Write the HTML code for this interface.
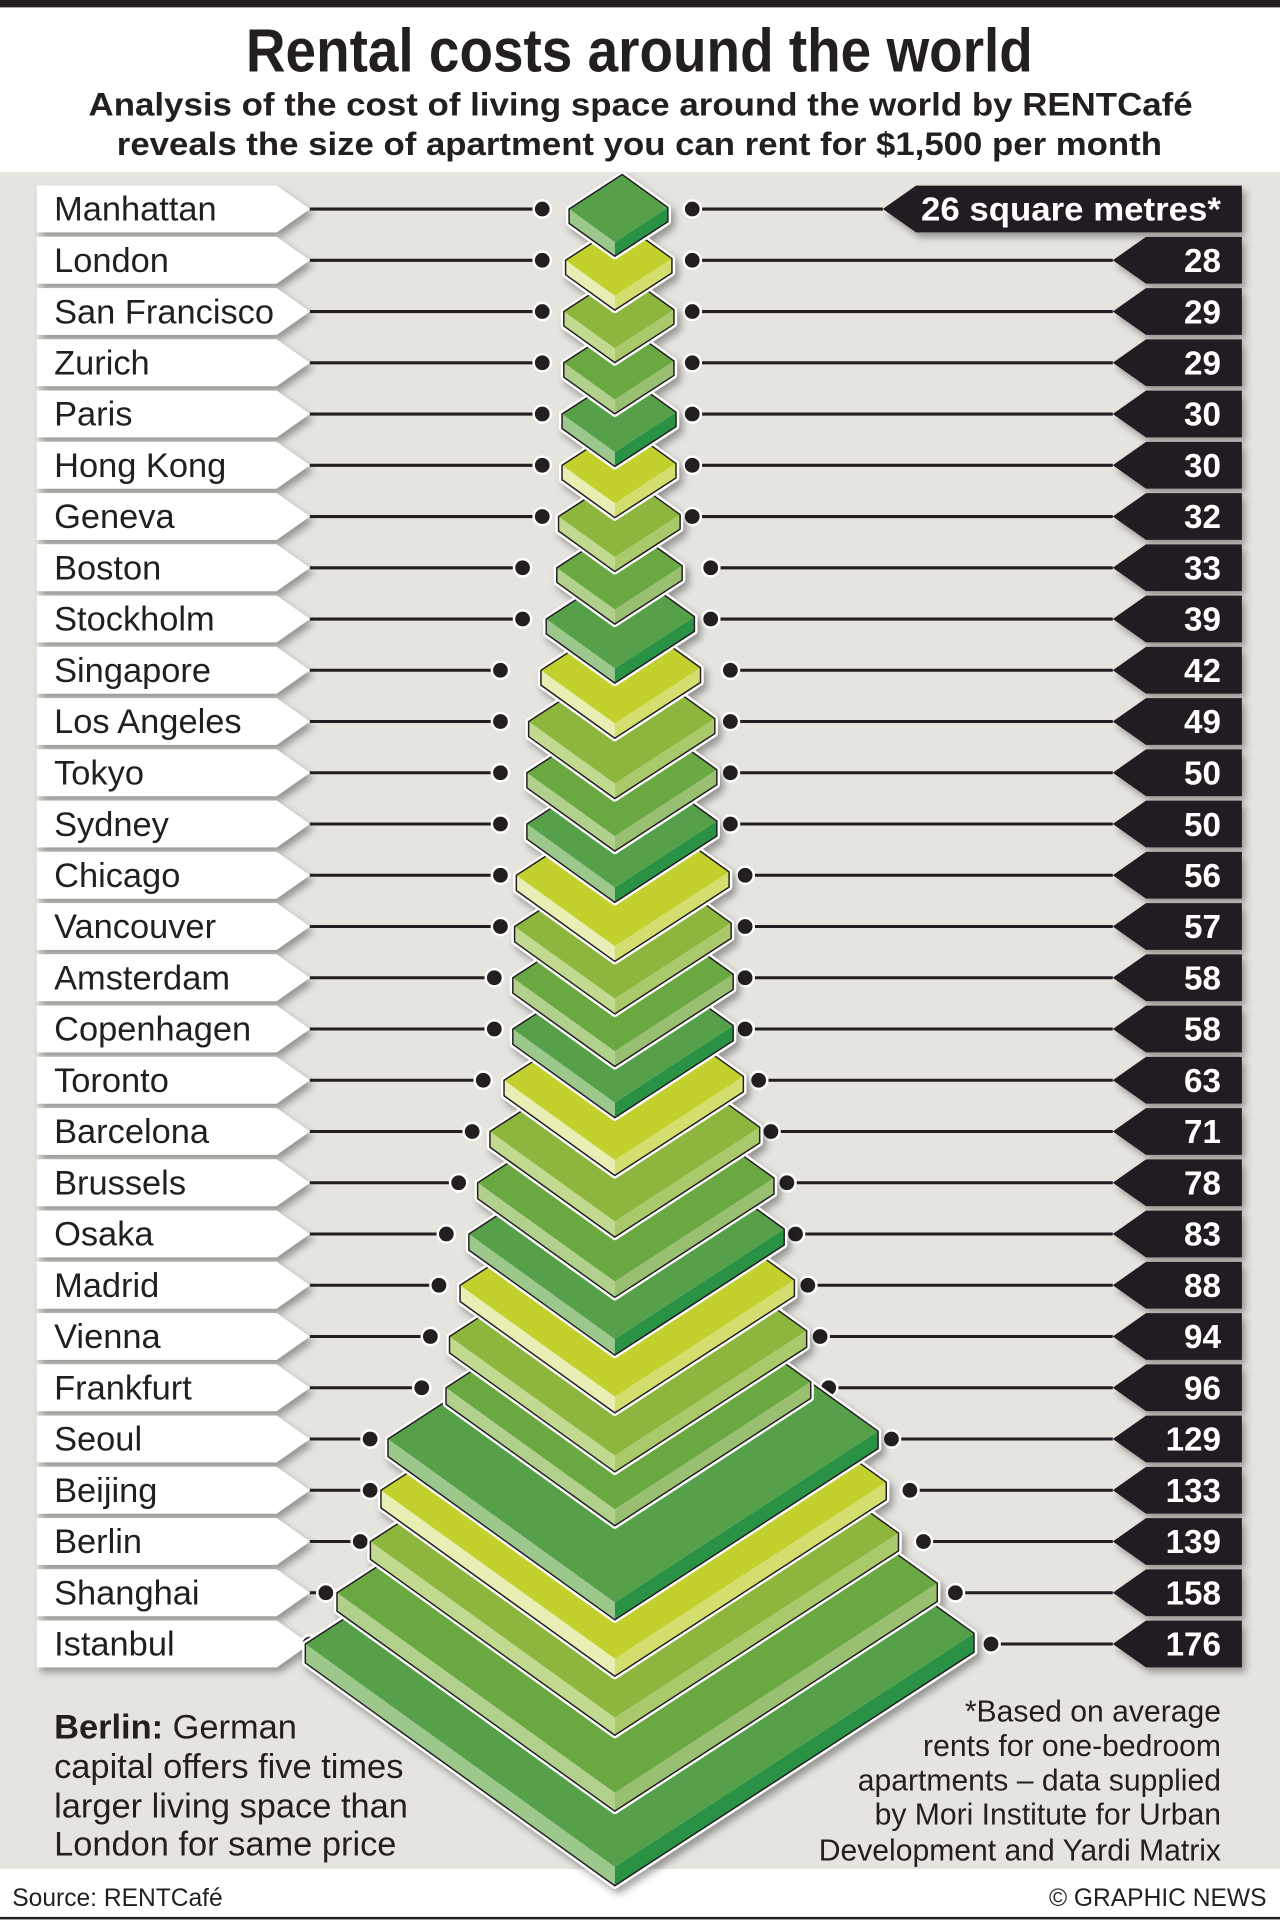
<!DOCTYPE html>
<html><head><meta charset="utf-8"><style>
html,body{margin:0;padding:0;background:#fff}
svg{display:block}
text{font-family:"Liberation Sans",Arial,sans-serif}
</style></head><body>
<svg id="s" width="1280" height="1928" viewBox="0 0 1041 1568" preserveAspectRatio="none" xmlns="http://www.w3.org/2000/svg">
<defs>
<filter id="sh" x="-10%" y="-20%" width="130%" height="160%"><feDropShadow dx="3" dy="4" stdDeviation="3" flood-color="#000" flood-opacity="0.35"/></filter>
</defs>
<rect x="0" y="0" width="1041" height="1568" fill="#fff"/>
<rect x="0" y="0" width="1041" height="6" fill="#231f20"/>
<rect x="0" y="140" width="1041" height="1380" fill="#e6e4df"/>
<text x="520" y="58" text-anchor="middle" font-size="50" font-weight="bold" textLength="640" lengthAdjust="spacingAndGlyphs" fill="#231f20" style="font-family:'Liberation Sans Narrow','Liberation Sans',sans-serif">Rental costs around the world</text>
<text x="521" y="94" text-anchor="middle" font-size="26" font-weight="bold" textLength="898" lengthAdjust="spacingAndGlyphs" fill="#231f20">Analysis of the cost of living space around the world by RENTCafé</text>
<text x="520" y="126" text-anchor="middle" font-size="26" font-weight="bold" textLength="850" lengthAdjust="spacingAndGlyphs" fill="#231f20">reveals the size of apartment you can rent for $1,500 per month</text>
<g id="lines"></g>
<g id="dia"></g>
<g id="lab" font-size="28" fill="#231f20">
<text x="44" y="179.5">Manhattan</text>
<text x="44" y="221.2">London</text>
<text x="44" y="262.9">San Francisco</text>
<text x="44" y="304.5">Zurich</text>
<text x="44" y="346.2">Paris</text>
<text x="44" y="387.9">Hong Kong</text>
<text x="44" y="429.6">Geneva</text>
<text x="44" y="471.3">Boston</text>
<text x="44" y="512.9">Stockholm</text>
<text x="44" y="554.6">Singapore</text>
<text x="44" y="596.3">Los Angeles</text>
<text x="44" y="638">Tokyo</text>
<text x="44" y="679.7">Sydney</text>
<text x="44" y="721.3">Chicago</text>
<text x="44" y="763">Vancouver</text>
<text x="44" y="804.7">Amsterdam</text>
<text x="44" y="846.4">Copenhagen</text>
<text x="44" y="888.1">Toronto</text>
<text x="44" y="929.7">Barcelona</text>
<text x="44" y="971.4">Brussels</text>
<text x="44" y="1013.1">Osaka</text>
<text x="44" y="1054.8">Madrid</text>
<text x="44" y="1096.5">Vienna</text>
<text x="44" y="1138.1">Frankfurt</text>
<text x="44" y="1179.8">Seoul</text>
<text x="44" y="1221.5">Beijing</text>
<text x="44" y="1263.2">Berlin</text>
<text x="44" y="1304.9">Shanghai</text>
<text x="44" y="1346.5">Istanbul</text>
</g>
<g font-size="27" font-weight="bold" fill="#fff" text-anchor="end">
<text x="993" y="179.5" textLength="244" lengthAdjust="spacingAndGlyphs">26 square metres*</text>
<text x="993" y="221.2">28</text>
<text x="993" y="262.9">29</text>
<text x="993" y="304.5">29</text>
<text x="993" y="346.2">30</text>
<text x="993" y="387.9">30</text>
<text x="993" y="429.6">32</text>
<text x="993" y="471.3">33</text>
<text x="993" y="512.9">39</text>
<text x="993" y="554.6">42</text>
<text x="993" y="596.3">49</text>
<text x="993" y="638">50</text>
<text x="993" y="679.7">50</text>
<text x="993" y="721.3">56</text>
<text x="993" y="763">57</text>
<text x="993" y="804.7">58</text>
<text x="993" y="846.4">58</text>
<text x="993" y="888.1">63</text>
<text x="993" y="929.7">71</text>
<text x="993" y="971.4">78</text>
<text x="993" y="1013.1">83</text>
<text x="993" y="1054.8">88</text>
<text x="993" y="1096.5">94</text>
<text x="993" y="1138.1">96</text>
<text x="993" y="1179.8">129</text>
<text x="993" y="1221.5">133</text>
<text x="993" y="1263.2">139</text>
<text x="993" y="1304.9">158</text>
<text x="993" y="1346.5">176</text>
</g>
<g font-size="28" fill="#231f20">
<text x="44" y="1414"><tspan font-weight="bold">Berlin:</tspan> German</text>
<text x="44" y="1446">capital offers five times</text>
<text x="44" y="1478">larger living space than</text>
<text x="44" y="1509">London for same price</text>
</g>
<g font-size="24.5" fill="#231f20" text-anchor="end">
<text x="993" y="1400">*Based on average</text>
<text x="993" y="1428">rents for one-bedroom</text>
<text x="993" y="1456">apartments – data supplied</text>
<text x="993" y="1484">by Mori Institute for Urban</text>
<text x="993" y="1513">Development and Yardi Matrix</text>
</g>
<text x="10" y="1550" font-size="20" fill="#231f20">Source: RENTCafé</text>
<text x="1030" y="1550" font-size="20" fill="#231f20" text-anchor="end">© GRAPHIC NEWS</text>
<rect x="0" y="1559" width="1041" height="2" fill="#231f20"/>
</svg>
<script>
(function(){
var NS="http://www.w3.org/2000/svg";
var vals=[26,28,29,29,30,30,32,33,39,42,49,50,50,56,57,58,58,63,71,78,83,88,94,96,129,133,139,158,176];
var ld=[441,441,441,441,441,441,441,425,425,407,407,407,407,407,407,402,402,393,384,373,363,357,350,343,301,301,293,265,252];
var rd=[563,563,563,563,563,563,563,578,578,594,594,594,594,606,606,606,606,617,627,640,647,657,667,674,725,740,751,777,806];
var cols=[["#54a04a","#9cc88c","#2a9245"],["#c2d12e","#e8eeb4","#d4de6e"],["#8cb63c","#c2da90","#a9c96a"],["#6aa843","#b0d08c","#98c070"]];
var L=document.getElementById("lines"),D=document.getElementById("dia");
function el(p,t,a){var e=document.createElementNS(NS,t);for(var k in a)e.setAttribute(k,a[k]);p.appendChild(e);return e;}
var sh=el(L,"g",{filter:"url(#sh)"});
for(var i=0;i<vals.length;i++){
 var y=170+41.68*i;
 el(sh,"polygon",{points:"30,"+(y-19)+" 225,"+(y-19)+" 252,"+y+" 225,"+(y+19)+" 30,"+(y+19),fill:"#fff"});
 var tip=(i==0)?718:905;
 el(sh,"polygon",{points:"1010,"+(y-19)+" "+(tip+27)+","+(y-19)+" "+tip+","+y+" "+(tip+27)+","+(y+19)+" 1010,"+(y+19),fill:"#231f20"});
}
for(var i=0;i<vals.length;i++){
 var y=170+41.68*i;
 el(L,"line",{x1:252,y1:y,x2:ld[i],y2:y,stroke:"#231f20","stroke-width":2.5});
 el(L,"line",{x1:rd[i],y1:y,x2:(i==0?718:905),y2:y,stroke:"#231f20","stroke-width":2.5});
 el(L,"circle",{cx:ld[i],cy:y,r:7,fill:"#231f20",stroke:"#fff","stroke-width":2});
 el(L,"circle",{cx:rd[i],cy:y,r:7,fill:"#231f20",stroke:"#fff","stroke-width":2});
}
var g=el(D,"g",{filter:"url(#sh)"});
for(var i=vals.length-1;i>=0;i--){
 var v=vals[i],y=170+41.68*i;
 var xl=500-1.43*v,xr=500+1.66*v;
 var yb=y+0.72*(500-xl),yr=yb-0.65*(xr-500),yl=y;
 var xt=xl+xr-500,yt=yl+yr-yb;
 var t=11+v*0.025;
 var c=cols[i%4];
 var outer=xt+","+yt+" "+xr+","+yr+" "+xr+","+(yr+t)+" 500,"+(yb+t)+" "+xl+","+(yl+t)+" "+xl+","+yl;
 el(g,"polygon",{points:outer,fill:"#fff",stroke:"#fff","stroke-width":5,"stroke-linejoin":"round"});
 el(g,"polygon",{points:xl+","+yl+" 500,"+yb+" 500,"+(yb+t)+" "+xl+","+(yl+t),fill:c[1]});
 el(g,"polygon",{points:"500,"+yb+" "+xr+","+yr+" "+xr+","+(yr+t)+" 500,"+(yb+t),fill:c[2]});
 el(g,"polygon",{points:xt+","+yt+" "+xr+","+yr+" 500,"+yb+" "+xl+","+yl,fill:c[0]});
 el(g,"polygon",{points:outer,fill:"none",stroke:"#231f20","stroke-width":1.2,"stroke-linejoin":"round"});
}
})();
</script>
</body></html>
